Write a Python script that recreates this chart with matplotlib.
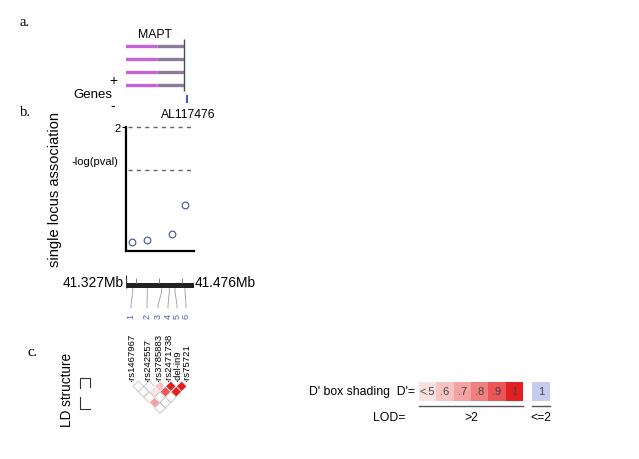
import matplotlib
matplotlib.use('Agg')
import numpy as np
import matplotlib.pyplot as plt
from matplotlib.patches import Polygon, Rectangle

plt.rcParams['font.family'] = ['Liberation Sans', 'DejaVu Sans']

# ---- data ----
region = [41.327, 41.476]                      # Mb
snp_names = ['rs1467967', 'rs242557', 'rs3785883', 'rs2471738', 'del-in9', 'rs75721']
snp_pos = [41.3417, 41.3737, 41.4052, 41.4219, 41.4344, 41.4563]
assoc_pos = [41.3400, 41.3737, 41.4280, 41.4563]
assoc_logp = [0.15, 0.18, 0.28, 0.74]
sig_lines = [2.0, 1.301]
mapt_span = [41.327, 41.396, 41.454]            # start, exon split, end
al_pos = 41.461
scale_ticks = [41.35, 41.40, 41.45]

# pairwise D' by distance (adjacent pairs first)
ld_rows = [[0.2, 0.2, 0.6, 1.0, 1.0],
           [0.2, 0.5, 0.9, 1.0],
           [0.2, 0.2, 0.2],
           [0.7, 0.2],
           [0.2]]
dp_labels = ['<.5', '.6', '.7', '.8', '.9', '1']
dp_colors = ['#fbe2e2', '#f8c3c3', '#f4a2a2', '#f08080', '#eb5555', '#e41f1f']
lod_color = '#c9cbee'


def dcolor(d):
    if d < 0.5:
        return 'white'
    k = int(np.clip(round(d * 10) - 5, 0, 5))
    return dp_colors[k]


W, H = 639, 460
fig = plt.figure(figsize=(W / 100, H / 100), dpi=100)
ax0 = fig.add_axes([0, 0, 1, 1])
ax0.set_xlim(0, W)
ax0.set_ylim(H, 0)
ax0.axis('off')


def rect(x0, x1, ytop, ybot):
    return [x0 / W, 1 - ybot / H, (x1 - x0) / W, (ybot - ytop) / H]


serif = ['Liberation Serif', 'DejaVu Serif']
ax0.text(20, 22, 'a.', family=serif, fontsize=10.5, va='center')
ax0.text(20, 112, 'b.', family=serif, fontsize=10.5, va='center')
ax0.text(28, 353, 'c.', family=serif, fontsize=10.5, va='center')

# ---- genes ----
axg = fig.add_axes(rect(126, 194, 25, 110))
axg.set_facecolor('none')
axg.set_xlim(region)
axg.set_ylim(110, 25)
axg.axis('off')
rows = [47.3, 60, 73.3, 86]
axg.hlines(rows, mapt_span[0] - 0.002, mapt_span[1], color='#c862d8', lw=2.4)
axg.hlines(rows, mapt_span[1], mapt_span[2], color='#8b7b98', lw=2.4)
axg.vlines(mapt_span[2], 40, 92, color='#4a4a60', lw=1)
axg.vlines(al_pos, 96, 104, color='#1f3f9f', lw=1.2)

ax0.text(155, 35, 'MAPT', fontsize=8.8, ha='center', va='center')
ax0.text(188, 115, 'AL117476', fontsize=8.7, ha='center', va='center')
ax0.text(112, 95, 'Genes', fontsize=9.5, ha='right', va='center')
ax0.text(113, 81, '+', fontsize=10, ha='center', va='center')
ax0.text(113, 106, '-', fontsize=10, ha='center', va='center')

# ---- single locus association ----
axa = fig.add_axes(rect(126, 194, 128, 252))
axa.set_facecolor('none')
axa.set_xlim(region)
axa.set_ylim(0, 2)
for s in ['top', 'right']:
    axa.spines[s].set_visible(False)
for s in ['left', 'bottom']:
    axa.spines[s].set_linewidth(1.6)
axa.set_xticks([])
axa.set_yticks([2])
axa.set_yticklabels(['2'], fontsize=8)
axa.tick_params(axis='y', length=3, width=0.8, pad=1)
for v in sig_lines:
    axa.axhline(v, xmin=0.03, xmax=1, color='#666666', lw=1, ls=(0, (3, 3)), clip_on=False)
axa.plot(assoc_pos, assoc_logp, 'o', mfc='none', mec='#4050a0', ms=4.8, mew=0.8, clip_on=False)

ax0.text(118, 162, '-log(pval)', fontsize=8, ha='right', va='center')
ax0.text(55, 190, 'single locus association', fontsize=10.5, rotation=90,
         ha='center', va='center')

# ---- physical scale bar ----
axb = fig.add_axes(rect(126, 194, 274, 312))
axb.set_facecolor('none')
axb.set_xlim(region)
axb.set_ylim(312, 274)
axb.axis('off')
axb.fill_between(region, 284, 289, color='#222222', lw=0)
axb.vlines(scale_ticks, 279, 284, color='#888888', lw=0.8)
axb.vlines(region, 276, 289, color='#333333', lw=0.8)
ax0.text(124, 283, '41.327Mb', fontsize=9.9, ha='right', va='center')
ax0.text(195, 283, '41.476Mb', fontsize=9.9, ha='left', va='center')

label_x = [131, 147, 158, 168, 177, 186]
for i, (p, lx) in enumerate(zip(snp_pos, label_x)):
    px = axb.transData.transform((p, 0))[0]
    ax0.plot([px, px, lx, lx], [289, 293, 306, 309], color='#999999', lw=0.6)
    ax0.text(lx, 319, str(i + 1), rotation=90, ha='center', va='bottom',
             fontsize=6.5, color='#4f5fa8')
    ax0.text(lx, 381, '\u00b7' + snp_names[i], rotation=90, ha='center', va='bottom',
             fontsize=6.8)

# ---- LD triangle ----
xs = np.linspace(133, 187, len(snp_names))
h = (xs[1] - xs[0]) / 2
y0 = 382
for d, row in enumerate(ld_rows, start=1):
    for i, v in enumerate(row):
        j = i + d
        cx = (xs[i] + xs[j]) / 2
        cy = y0 + d * h
        c = dcolor(v)
        ec = '#c0c0c0' if c == 'white' else 'white'
        ax0.add_patch(Polygon([(cx, cy - h), (cx + h, cy), (cx, cy + h), (cx - h, cy)],
                              closed=True, fc=c, ec=ec, lw=0.6))

ax0.text(67, 390, 'LD structure', fontsize=9.8, rotation=90, ha='center', va='center')
ax0.plot([80, 80, 90, 90], [389, 379, 379, 388], color='#333333', lw=0.8)
ax0.plot([80, 80, 90], [398, 410, 410], color='#333333', lw=0.8)

# ---- D' legend ----
bw = 17.3
bx0 = 419
for k, (lab, col) in enumerate(zip(dp_labels, dp_colors)):
    ax0.add_patch(Rectangle((bx0 + k * bw, 383), bw, 19, fc=col, ec='none'))
    ax0.text(bx0 + k * bw + bw / 2, 392.5, lab, fontsize=8, ha='center', va='center',
             color='#444444')
ax0.add_patch(Rectangle((532, 383), 18, 19, fc=lod_color, ec='none'))
ax0.text(541, 392.5, '1', fontsize=8, ha='center', va='center', color='#444444')
ax0.text(415, 392.5, "D' box shading  D'=", fontsize=8.8, ha='right', va='center')
ax0.plot([bx0, bx0 + 6 * bw], [407, 407], color='#555555', lw=1)
ax0.plot([532, 550], [407, 407], color='#555555', lw=1)
ax0.text(bx0 + 3 * bw, 418, '>2', fontsize=8.8, ha='center', va='center')
ax0.text(541, 418, '<=2', fontsize=8.8, ha='center', va='center')
ax0.text(405, 418, 'LOD=', fontsize=8.8, ha='right', va='center')

fig.savefig('out.png', dpi=100)
